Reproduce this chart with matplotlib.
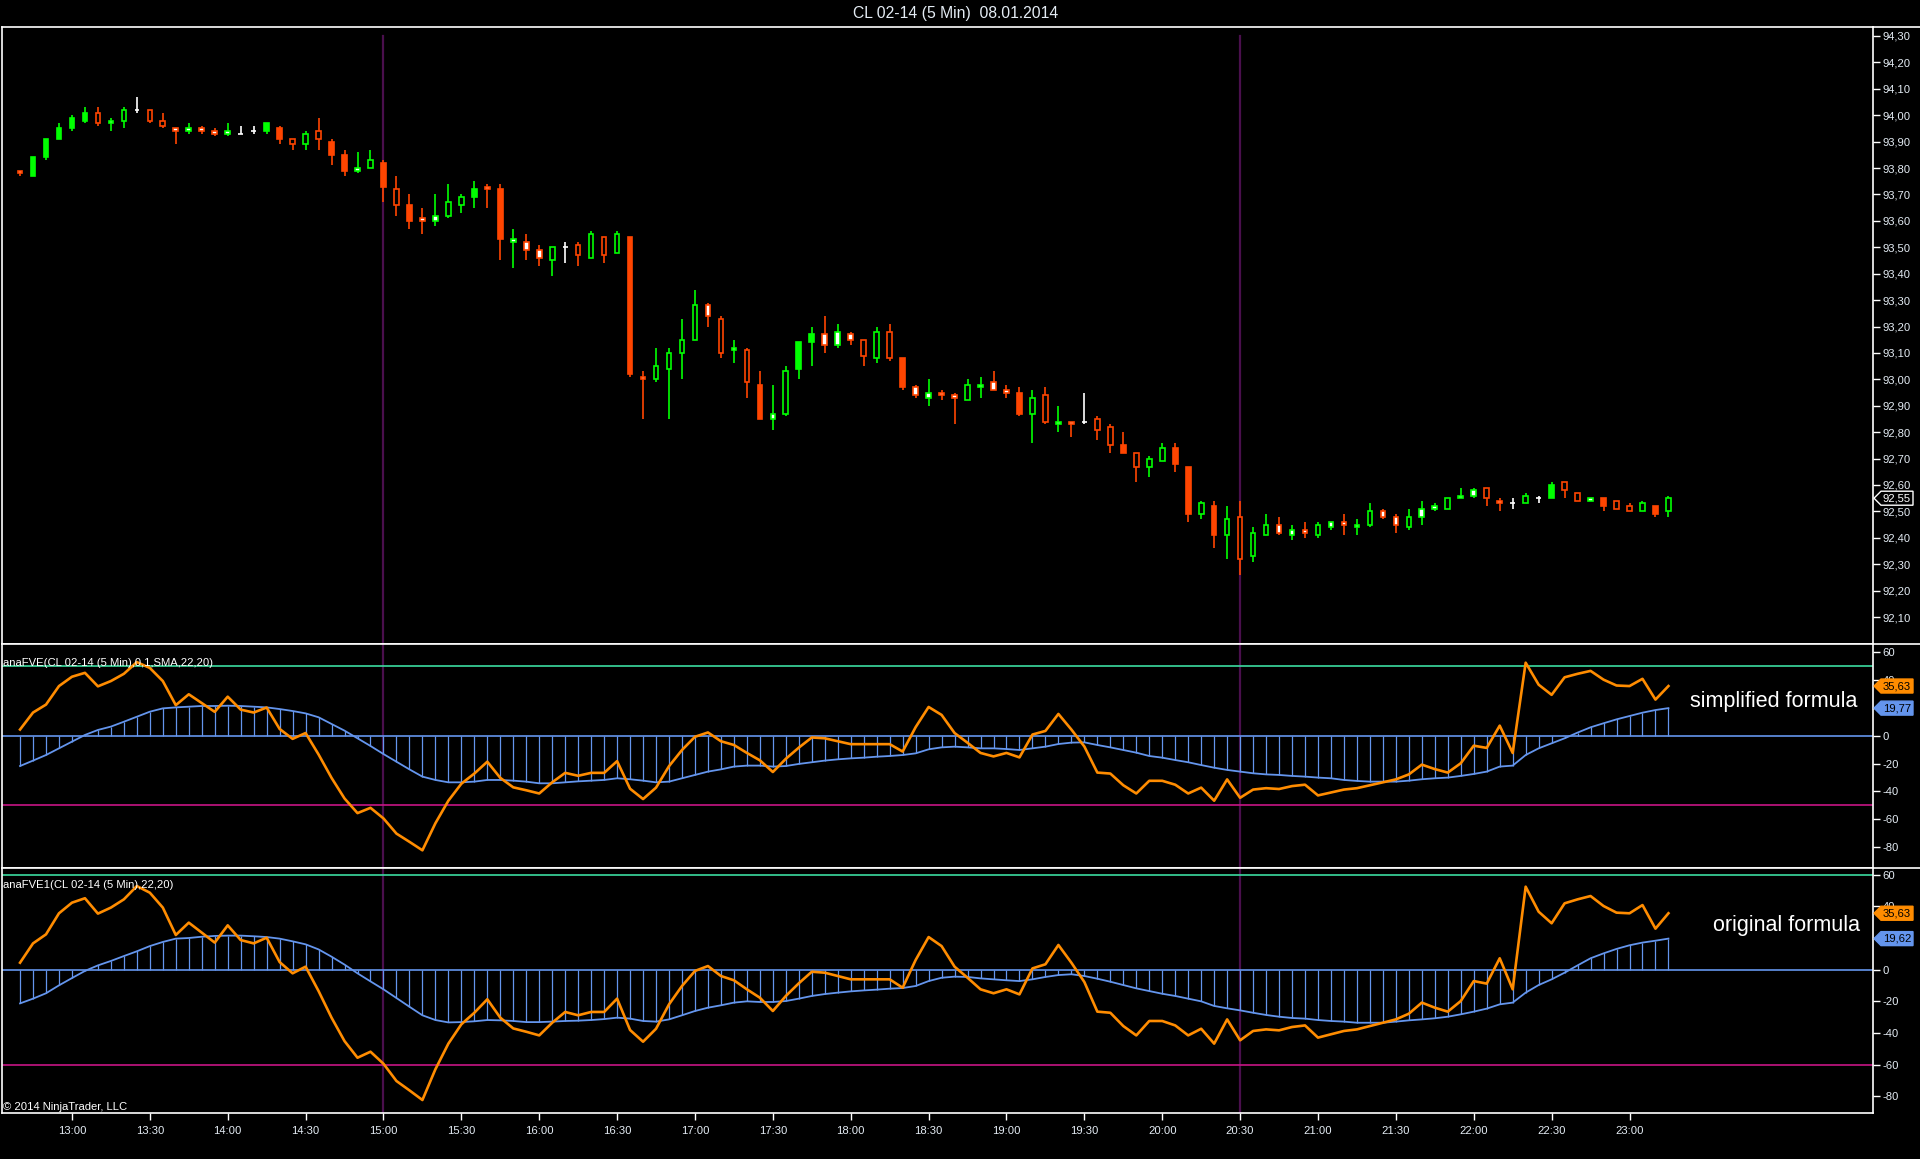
import numpy as np
import matplotlib
matplotlib.use("Agg")
import matplotlib.pyplot as plt
from matplotlib.patches import Polygon
from matplotlib.lines import Line2D
from matplotlib.transforms import IdentityTransform

plt.rcParams['font.family'] = ['Liberation Sans', 'DejaVu Sans']

W, H = 1920, 1159
SMALL = 8.1

# ---- data (CL 02-14, 5 min bars, 12:40 .. 23:15) ----
start_time = '12:40'
bar_minutes = 5

opens = [93.79, 93.77, 93.84, 93.91, 93.95, 93.98, 94.01, 93.97, 93.98, 94.02,
         94.02, 93.98, 93.95, 93.94, 93.95, 93.94, 93.93, 93.93, 93.94, 93.94,
         93.95, 93.91, 93.89, 93.94, 93.90, 93.85, 93.79, 93.80, 93.82, 93.72,
         93.66, 93.61, 93.60, 93.62, 93.66, 93.69, 93.73, 93.72, 93.52, 93.52,
         93.49, 93.45, 93.50, 93.51, 93.46, 93.54, 93.48, 93.54, 93.01, 93.00,
         93.04, 93.10, 93.15, 93.28, 93.23, 93.11, 93.11, 92.98, 92.85, 92.87,
         93.04, 93.14, 93.17, 93.13, 93.17, 93.15, 93.08, 93.18, 93.08, 92.97,
         92.93, 92.95, 92.94, 92.92, 92.97, 92.99, 92.96, 92.95, 92.87, 92.94,
         92.83, 92.84, 92.84, 92.85, 92.82, 92.75, 92.72, 92.67, 92.69, 92.74,
         92.67, 92.49, 92.52, 92.41, 92.48, 92.33, 92.41, 92.45, 92.41, 92.43,
         92.41, 92.44, 92.46, 92.44, 92.45, 92.50, 92.48, 92.44, 92.48, 92.51,
         92.51, 92.55, 92.56, 92.59, 92.54, 92.53, 92.53, 92.55, 92.55, 92.61,
         92.57, 92.54, 92.55, 92.54, 92.52, 92.50, 92.52, 92.50]
highs = [93.79, 93.84, 93.91, 93.97, 94.00, 94.03, 94.03, 93.99, 94.03, 94.07,
         94.02, 94.01, 93.95, 93.97, 93.96, 93.95, 93.97, 93.96, 93.96, 93.97,
         93.96, 93.91, 93.94, 93.99, 93.91, 93.87, 93.86, 93.87, 93.83, 93.77,
         93.70, 93.65, 93.70, 93.74, 93.70, 93.75, 93.74, 93.74, 93.57, 93.55,
         93.51, 93.50, 93.52, 93.52, 93.56, 93.54, 93.56, 93.54, 93.03, 93.12,
         93.12, 93.23, 93.34, 93.29, 93.24, 93.15, 93.12, 93.03, 92.98, 93.05,
         93.14, 93.20, 93.24, 93.21, 93.18, 93.15, 93.20, 93.21, 93.08, 92.98,
         93.00, 92.96, 92.95, 93.00, 93.01, 93.03, 92.98, 92.97, 92.96, 92.97,
         92.90, 92.84, 92.95, 92.86, 92.83, 92.80, 92.72, 92.71, 92.76, 92.76,
         92.67, 92.54, 92.54, 92.52, 92.54, 92.44, 92.49, 92.48, 92.45, 92.46,
         92.46, 92.46, 92.49, 92.47, 92.53, 92.51, 92.49, 92.51, 92.54, 92.53,
         92.55, 92.59, 92.59, 92.59, 92.55, 92.55, 92.57, 92.56, 92.61, 92.61,
         92.57, 92.55, 92.55, 92.54, 92.53, 92.54, 92.52, 92.56]
lows = [93.77, 93.77, 93.83, 93.91, 93.94, 93.97, 93.96, 93.94, 93.95, 94.01,
        93.97, 93.95, 93.89, 93.93, 93.93, 93.92, 93.92, 93.93, 93.93, 93.93,
        93.89, 93.87, 93.87, 93.87, 93.81, 93.77, 93.78, 93.80, 93.67, 93.62,
        93.57, 93.55, 93.58, 93.61, 93.63, 93.65, 93.65, 93.45, 93.42, 93.45,
        93.43, 93.39, 93.44, 93.43, 93.46, 93.44, 93.48, 93.01, 92.85, 92.99,
        92.85, 93.00, 93.15, 93.20, 93.08, 93.06, 92.93, 92.85, 92.81, 92.86,
        93.00, 93.05, 93.10, 93.12, 93.13, 93.05, 93.06, 93.07, 92.96, 92.93,
        92.90, 92.92, 92.83, 92.92, 92.93, 92.96, 92.93, 92.86, 92.76, 92.83,
        92.80, 92.78, 92.83, 92.77, 92.72, 92.72, 92.61, 92.63, 92.69, 92.65,
        92.46, 92.47, 92.36, 92.32, 92.26, 92.31, 92.41, 92.41, 92.39, 92.40,
        92.40, 92.43, 92.41, 92.41, 92.44, 92.47, 92.42, 92.43, 92.45, 92.50,
        92.51, 92.55, 92.55, 92.52, 92.50, 92.51, 92.53, 92.53, 92.55, 92.55,
        92.54, 92.54, 92.50, 92.51, 92.50, 92.50, 92.48, 92.48]
closes = [93.78, 93.84, 93.91, 93.95, 93.99, 94.01, 93.97, 93.98, 94.02, 94.02,
          93.98, 93.96, 93.94, 93.95, 93.94, 93.93, 93.94, 93.93, 93.94, 93.97,
          93.91, 93.89, 93.93, 93.91, 93.85, 93.79, 93.80, 93.83, 93.73, 93.66,
          93.60, 93.60, 93.62, 93.67, 93.69, 93.72, 93.72, 93.53, 93.53, 93.49,
          93.46, 93.50, 93.50, 93.47, 93.55, 93.47, 93.55, 93.02, 93.00, 93.05,
          93.10, 93.15, 93.28, 93.24, 93.10, 93.12, 92.99, 92.85, 92.87, 93.03,
          93.14, 93.17, 93.13, 93.18, 93.15, 93.09, 93.18, 93.08, 92.97, 92.94,
          92.95, 92.94, 92.93, 92.98, 92.98, 92.96, 92.95, 92.87, 92.93, 92.84,
          92.84, 92.83, 92.84, 92.81, 92.75, 92.72, 92.67, 92.70, 92.74, 92.68,
          92.49, 92.53, 92.41, 92.47, 92.32, 92.42, 92.45, 92.42, 92.43, 92.42,
          92.45, 92.46, 92.45, 92.45, 92.50, 92.48, 92.45, 92.48, 92.51, 92.52,
          92.55, 92.56, 92.58, 92.55, 92.53, 92.53, 92.56, 92.55, 92.60, 92.58,
          92.54, 92.55, 92.52, 92.51, 92.50, 92.53, 92.49, 92.55]
# outline colour per bar: g = green, o = orange, w = white (doji)
edge_codes = ("ogggggoggw" "ooogoogwwg" "oogoooggoo" "ooggggoogo"
              "ogwogogoog" "gggoogoogg" "ggogoogooo" "googgooogo"
              "gowooooggo" "ogogoggogo" "ggoggooggg" "gggoowgwgo"
              "ogooogog")
# body per bar: f = filled, h = hollow, w = white inside
fill_codes = ("wfffffhwhh" "hhwwwwwhhf" "fhhhffwhfh" "fwwhhfwfww"
              "whhhhhhfwh" "hhhwhwhfwh" "ffwwwhhhfw" "wwwhwwwfhh"
              "wwhhhfhhhf" "fhfhhhhwww" "hwwwhwwhww" "hwwhwhhhfh"
              "hwfhhhfh")

fve = [4.4, 16.6, 22.3, 35.6, 42.3, 45.1, 35.4, 39.2, 44.4, 52.8,
       48.6, 39.2, 21.9, 29.7, 23.4, 17.1, 28.0, 18.7, 16.6, 20.2,
       4.8, -2.3, 1.9, -13.5, -30.3, -45.1, -55.6, -51.8, -59.4, -70.3,
       -76.2, -82.3, -62.9, -46.7, -34.5, -27.2, -18.7, -30.3, -37.1, -39.2,
       -41.5, -33.5, -26.7, -28.8, -26.7, -26.7, -18.3, -38.1, -45.5, -37.3,
       -21.9, -10.3, -0.8, 2.3, -4.0, -6.7, -12.4, -17.7, -26.1, -16.6,
       -8.6, -1.3, -1.9, -4.0, -6.1, -6.1, -6.1, -6.1, -11.4, 6.1,
       20.6, 14.9, 1.9, -5.1, -12.4, -14.9, -12.4, -15.6, 0.8, 3.4,
       15.6, 4.4, -7.8, -26.5, -27.2, -35.6, -41.5, -32.4, -32.4, -35.2,
       -41.5, -37.3, -46.7, -31.4, -44.6, -38.7, -37.7, -38.3, -36.2, -35.2,
       -42.9, -40.8, -38.7, -37.7, -35.6, -33.5, -31.4, -27.8, -20.8, -24.0,
       -26.5, -19.8, -7.2, -8.8, 7.2, -12.4, 52.4, 36.6, 29.3, 41.9,
       44.4, 46.5, 40.2, 36.0, 35.6, 40.8, 25.9, 35.63]

fve_avg_simplified = [-21.8, -17.9, -13.9, -9.1, -4.3, 0.5, 4.1, 6.5, 10.0, 13.6,
                      17.2, 19.6, 20.3, 20.8, 21.3, 21.3, 21.5, 21.3, 20.8, 20.3,
                      19.1, 17.7, 16.0, 13.2, 8.4, 3.6, -1.9, -7.4, -13.2, -18.7,
                      -24.2, -29.4, -31.8, -33.5, -33.5, -33.0, -31.8, -31.8, -32.3, -33.0,
                      -34.2, -34.2, -33.5, -32.8, -32.3, -31.8, -30.6, -31.3, -32.3, -33.5,
                      -33.0, -30.6, -28.2, -25.8, -24.2, -22.2, -21.5, -21.5, -22.2, -21.8,
                      -20.3, -19.1, -17.9, -17.0, -16.3, -15.8, -15.1, -14.6, -13.9, -12.7,
                      -9.8, -8.4, -7.9, -8.4, -9.1, -9.1, -9.6, -10.3, -9.1, -7.9,
                      -6.0, -5.0, -4.8, -6.7, -8.4, -10.3, -12.2, -14.6, -15.8, -17.5,
                      -19.1, -21.1, -23.0, -24.6, -25.8, -27.0, -27.8, -28.2, -28.9, -29.4,
                      -30.1, -30.6, -31.8, -32.5, -33.0, -33.0, -33.0, -32.3, -31.3, -30.6,
                      -30.1, -28.9, -27.5, -25.8, -22.2, -21.5, -13.9, -9.1, -5.5, -1.9,
                      2.2, 6.0, 8.9, 11.7, 14.1, 16.5, 18.4, 19.77]

fve_avg_original = [-21.3, -18.3, -14.9, -9.9, -5.3, -0.8, 2.7, 5.5, 8.6, 11.6,
                    14.9, 17.5, 19.6, 20.0, 20.8, 21.3, 21.5, 21.5, 21.1, 20.6,
                    19.6, 17.9, 16.0, 12.8, 8.2, 3.2, -2.3, -7.4, -12.4, -17.9,
                    -23.4, -28.8, -31.8, -33.3, -33.1, -32.6, -31.8, -32.0, -32.4, -33.1,
                    -33.1, -32.8, -32.4, -32.2, -31.8, -31.2, -30.3, -30.9, -32.4, -32.8,
                    -31.4, -28.8, -26.1, -24.0, -22.5, -20.8, -20.0, -20.4, -20.4, -19.8,
                    -18.3, -16.6, -15.4, -14.5, -13.7, -13.1, -12.6, -12.0, -11.6, -10.3,
                    -7.2, -5.1, -4.4, -4.6, -5.5, -6.1, -6.7, -7.2, -6.1, -4.6,
                    -3.4, -2.9, -4.0, -5.7, -7.6, -9.7, -11.8, -13.5, -15.2, -16.6,
                    -18.3, -20.0, -22.9, -24.4, -25.7, -27.2, -28.6, -29.7, -30.5, -30.9,
                    -31.8, -32.4, -32.8, -33.5, -33.5, -33.5, -32.8, -32.0, -31.4, -30.7,
                    -29.7, -28.2, -26.5, -24.6, -21.9, -20.8, -14.5, -9.7, -6.1, -1.9,
                    2.7, 7.2, 10.3, 13.1, 15.4, 17.1, 18.3, 19.62]

time_labels = ['13:00', '13:30', '14:00', '14:30', '15:00', '15:30', '16:00',
               '16:30', '17:00', '17:30', '18:00', '18:30', '19:00', '19:30',
               '20:00', '20:30', '21:00', '21:30', '22:00', '22:30', '23:00']
session_marks = ['15:00', '20:30']
price_ticks = [92.10, 92.20, 92.30, 92.40, 92.50, 92.60, 92.70, 92.80, 92.90,
               93.00, 93.10, 93.20, 93.30, 93.40, 93.50, 93.60, 93.70, 93.80,
               93.90, 94.00, 94.10, 94.20, 94.30]
osc_ticks = [-80, -60, -40, -20, 0, 20, 40, 60]

# ---- colours ----
BG = '#000000'
GREEN = '#00ff00'
ORANGE = '#ff4500'
FVE_COL = '#ff8c00'
BLUE = '#6495ed'
LEVEL_HI = '#3cdca0'
LEVEL_LO = '#c71585'
SESSION = '#4a0f4d'
FG = '#ffffff'
LABEL = '#e4ecf4'
code_col = {'g': GREEN, 'o': ORANGE, 'w': FG}


def bar_pos(label):
    h, m = label.split(':')
    sh, sm = start_time.split(':')
    return ((int(h) * 60 + int(m)) - (int(sh) * 60 + int(sm))) / bar_minutes


def comma(v):
    return f'{v:.2f}'.replace('.', ',')


fig = plt.figure(figsize=(W / 100, H / 100), dpi=100, facecolor=BG)


def px_axes(x0, y0, x1, y1):
    ax = fig.add_axes([x0 / W, 1 - y1 / H, (x1 - x0) / W, (y1 - y0) / H])
    ax.set_facecolor(BG)
    for s in ax.spines.values():
        s.set_color(FG)
        s.set_linewidth(1.2)
    return ax


AX_L, AX_R = 2, 1873
ax_p = px_axes(AX_L, 27, AX_R, 644)
ax_1 = px_axes(AX_L, 644, AX_R, 868)
ax_2 = px_axes(AX_L, 868, AX_R, 1113)

x = np.arange(len(closes))
xlim = (-1.39, 142.76)

# ---- price panel ----
o = np.array(opens)
c = np.array(closes)
tops = np.maximum(o, c)
bots = np.minimum(o, c)
edges = [code_col[k] for k in edge_codes]
faces = []
for k, f in zip(edge_codes, fill_codes):
    if k == 'w' or f == 'w':
        faces.append(FG)
    elif f == 'f':
        faces.append(code_col[k])
    else:
        faces.append(BG)

ax_p.vlines(x, lows, highs, colors=edges, linewidth=1.2, zorder=2)
ax_p.bar(x, tops - bots, bottom=bots, width=0.36, color=faces,
         edgecolor=edges, linewidth=1.2, zorder=3)
ax_p.set_ylim(91.998, 94.334)
ax_p.set_xlim(*xlim)
ax_p.set_xticks([])
ax_p.yaxis.tick_right()
ax_p.set_yticks(price_ticks)
ax_p.set_yticklabels([comma(t) for t in price_ticks])
ax_p.tick_params(axis='y', colors=FG, labelcolor=LABEL, direction='out',
                 length=5, width=1, pad=2, labelsize=SMALL)

for mark in session_marks:
    ax_p.axvline(bar_pos(mark), ymin=0, ymax=0.986, color=SESSION, lw=1.6, zorder=1)


# ---- oscillator panels ----
def oscillator(ax, avg, level, ylim):
    ax.axhline(level, color=LEVEL_HI, lw=1.2, zorder=1)
    ax.axhline(-level, color=LEVEL_LO, lw=1.2, zorder=1)
    ax.axhline(0, color=BLUE, lw=1.2, zorder=2)
    ax.vlines(x, 0, avg, colors=BLUE, linewidth=0.9, zorder=2)
    ax.plot(x, avg, color=BLUE, lw=1.3, zorder=3)
    ax.plot(x, fve, color=FVE_COL, lw=1.9, zorder=4)
    for mark in session_marks:
        ax.axvline(bar_pos(mark), color=SESSION, lw=1.6, zorder=0)
    ax.set_ylim(*ylim)
    ax.set_xlim(*xlim)
    ax.yaxis.tick_right()
    ax.set_yticks(osc_ticks)
    ax.set_yticklabels([str(t) for t in osc_ticks])
    ax.tick_params(axis='y', colors=FG, labelcolor=LABEL, direction='out',
                   length=5, width=1, pad=2, labelsize=SMALL)


oscillator(ax_1, fve_avg_simplified, 50, (-95.0, 65.8))
oscillator(ax_2, fve_avg_original, 60, (-90.5, 64.2))
ax_1.set_xticks([])
ax_2.set_xticks([bar_pos(t) for t in time_labels])
ax_2.set_xticklabels(time_labels)
ax_2.tick_params(axis='x', colors=FG, labelcolor=LABEL, direction='out',
                 length=5, width=1, pad=4, labelsize=SMALL)

# separator lines running into the scale area
for yy in (27, 644, 868):
    fig.add_artist(Line2D([AX_R / W, 1], [1 - yy / H, 1 - yy / H], color=FG, lw=1.2))


# ---- value markers on the right scale ----
def marker(ax, value, face, edge, text_col):
    yd = ax.transData.transform((0, value))[1]
    xa = AX_R + 1
    hh = 7
    pts = [(xa, yd), (xa + 7, yd + hh), (xa + 39, yd + hh), (xa + 39, yd - hh),
           (xa + 7, yd - hh)]
    fig.add_artist(Polygon(pts, closed=True, facecolor=face, edgecolor=edge,
                           lw=1, transform=IdentityTransform(), zorder=20))
    fig.text((xa + 23) / W, yd / H, comma(value), color=text_col,
             fontsize=SMALL, ha='center', va='center', zorder=21)


marker(ax_p, closes[-1], BG, FG, FG)
marker(ax_1, fve[-1], FVE_COL, FVE_COL, BG)
marker(ax_1, fve_avg_simplified[-1], BLUE, BLUE, BG)
marker(ax_2, fve[-1], FVE_COL, FVE_COL, BG)
marker(ax_2, fve_avg_original[-1], BLUE, BLUE, BG)

# ---- texts ----
fig.text(956 / W, 1 - 13.5 / H, 'CL 02-14 (5 Min)  08.01.2014', color=LABEL,
         fontsize=11.3, ha='center', va='center')
fig.text(3 / W, 1 - 662.5 / H, 'anaFVE(CL 02-14 (5 Min),0,1,SMA,22,20)',
         color=FG, fontsize=SMALL, ha='left', va='center')
fig.text(3 / W, 1 - 885.5 / H, 'anaFVE1(CL 02-14 (5 Min),22,20)',
         color=FG, fontsize=SMALL, ha='left', va='center')
fig.text(3 / W, 1 - 1106.5 / H, '\u00a9 2014 NinjaTrader, LLC',
         color=FG, fontsize=SMALL, ha='left', va='center')
fig.text(1690 / W, 1 - 701 / H, 'simplified formula', color=FG, fontsize=15.5,
         ha='left', va='center')
fig.text(1713 / W, 1 - 925 / H, 'original formula', color=FG, fontsize=15.5,
         ha='left', va='center')

fig.savefig('out.png', dpi=100, facecolor=BG)
